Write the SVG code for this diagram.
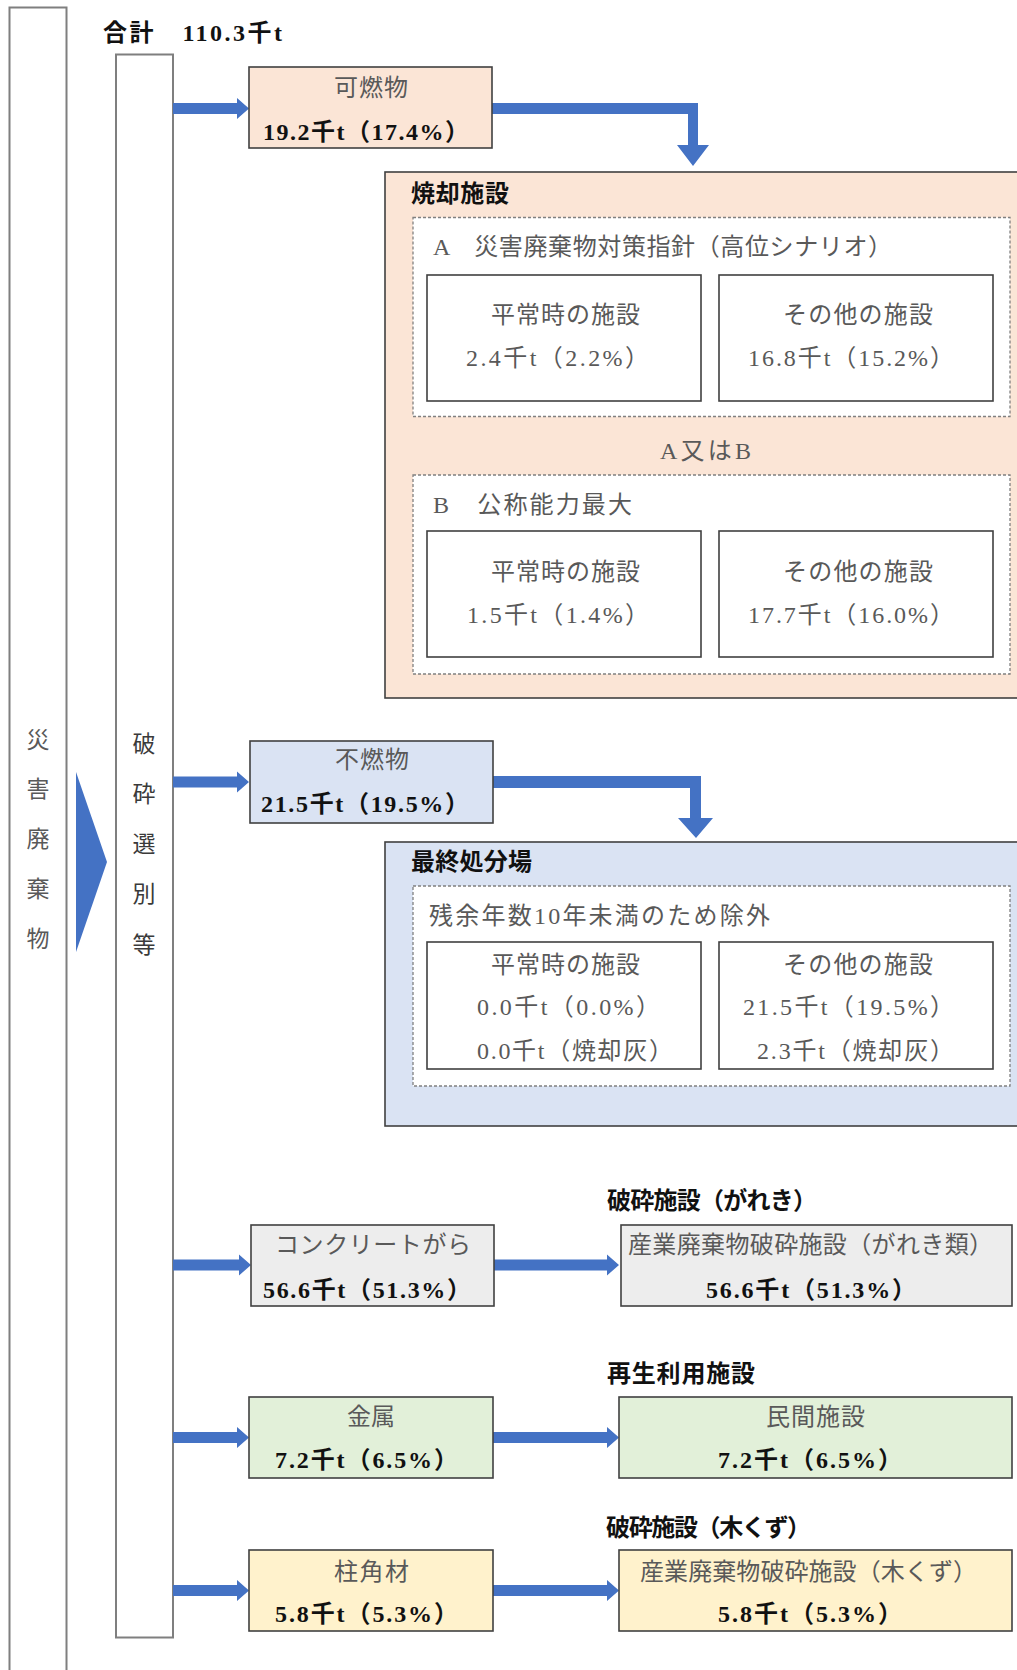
<svg xmlns="http://www.w3.org/2000/svg" width="1017" height="1670" viewBox="0 0 1017 1670">
<style>
.t{font-family:"Liberation Serif","Noto Sans CJK JP",serif;font-size:24px;fill:#595959}
.b{font-family:"Liberation Serif","Noto Sans CJK JP",serif;font-size:24px;font-weight:bold;fill:#111}
.v{font-family:"Liberation Serif","Noto Sans CJK JP",serif;font-size:23px;fill:#595959;text-anchor:middle}
.box{stroke:#404040;stroke-width:1.6}
.in{fill:#fff;stroke:#404040;stroke-width:1.6}
.dash{fill:#fff;stroke:#808080;stroke-width:1.3;stroke-dasharray:3 2}
.col{fill:#fff;stroke:#7f7f7f;stroke-width:2}
.arr{fill:#4472C4}
.or{fill:#FBE5D6}.bl{fill:#DAE3F3}.gr{fill:#EDEDED}.gn{fill:#E2F0D9}.yl{fill:#FFF2CC}
</style>
<rect width="1017" height="1670" fill="#fff"/>
<g id="total"><text class="b" x="103" y="41" textLength="179">合計　110.3千t</text></g>
<g id="saigai">
<rect class="col" x="9.5" y="7.5" width="57" height="1680"/>
<text class="v" x="38" y="748">災</text>
<text class="v" x="38" y="797">害</text>
<text class="v" x="38" y="847">廃</text>
<text class="v" x="38" y="897">棄</text>
<text class="v" x="38" y="947">物</text>
</g>
<g id="hasai">
<rect class="col" x="116" y="54.5" width="57" height="1583"/>
<text class="v" x="144" y="752" style="fill:#3a3a3a">破</text>
<text class="v" x="144" y="802" style="fill:#3a3a3a">砕</text>
<text class="v" x="144" y="852" style="fill:#3a3a3a">選</text>
<text class="v" x="144" y="902" style="fill:#3a3a3a">別</text>
<text class="v" x="144" y="953" style="fill:#3a3a3a">等</text>
</g>
<g id="connectors">
<polygon class="arr" points="76,772 107,862 76,952"/>
<path class="arr" d="M173,103 H237 V98 L249,108.5 L237,119 V114 H173 Z"/>
<path class="arr" d="M173,776.5 H237 V771.5 L249,782 L237,792.5 V787.5 H173 Z"/>
<path class="arr" d="M173,1259.5 H239 V1254.5 L251,1265 L239,1275.5 V1270.5 H173 Z"/>
<path class="arr" d="M173,1432 H237 V1427 L249,1437.5 L237,1448 V1443 H173 Z"/>
<path class="arr" d="M173,1585 H237 V1580 L249,1590.5 L237,1601 V1596 H173 Z"/>
<path class="arr" d="M494,1259.5 H607 V1254.5 L619,1265 L607,1275.5 V1270.5 H494 Z"/>
<path class="arr" d="M493,1432 H607 V1427 L619,1437.5 L607,1448 V1443 H493 Z"/>
<path class="arr" d="M493,1585 H607 V1580 L619,1590.5 L607,1601 V1596 H493 Z"/>
<path class="arr" d="M492,103 H698 V145 H709 L693,166 L677,145 H688 V114 H492 Z"/>
<path class="arr" d="M493,776 H701 V818 H713 L696,838 L678,818 H690 V788 H493 Z"/>
</g>
<g id="kanen">
<rect class="box or" x="249" y="67" width="243" height="81"/>
<text class="t" x="334" y="96" textLength="74">可燃物</text>
<text class="b" x="263" y="140" textLength="206">19.2千t（17.4%）</text>
</g>
<g id="shokyaku">
<rect class="box or" x="385" y="172" width="640" height="526"/>
<text class="b" x="411" y="202" textLength="98">焼却施設</text>
<rect class="dash" x="413" y="217.5" width="597" height="199"/>
<text class="t" x="433" y="255" textLength="459">A　災害廃棄物対策指針（高位シナリオ）</text>
<rect class="in" x="427" y="275" width="274" height="126"/>
<text class="t" x="491" y="323" textLength="149">平常時の施設</text>
<text class="t" x="466" y="366" textLength="183">2.4千t（2.2%）</text>
<rect class="in" x="719" y="275" width="274" height="126"/>
<text class="t" x="783" y="323" textLength="150">その他の施設</text>
<text class="t" x="748" y="366" textLength="206">16.8千t（15.2%）</text>
<text class="t" x="660" y="459" textLength="91">A又はB</text>
<rect class="dash" x="413" y="475" width="597" height="199"/>
<text class="t" x="433" y="513" textLength="199">B　公称能力最大</text>
<rect class="in" x="427" y="531" width="274" height="126"/>
<text class="t" x="491" y="580" textLength="149">平常時の施設</text>
<text class="t" x="467" y="623" textLength="182">1.5千t（1.4%）</text>
<rect class="in" x="719" y="531" width="274" height="126"/>
<text class="t" x="783" y="580" textLength="150">その他の施設</text>
<text class="t" x="748" y="623" textLength="206">17.7千t（16.0%）</text>
</g>
<g id="funen">
<rect class="box bl" x="250" y="741" width="243" height="82"/>
<text class="t" x="335" y="768" textLength="74">不燃物</text>
<text class="b" x="261" y="812" textLength="208">21.5千t（19.5%）</text>
</g>
<g id="saishu">
<rect class="box bl" x="385" y="842" width="640" height="284"/>
<text class="b" x="411" y="870" textLength="121">最終処分場</text>
<rect class="dash" x="413" y="886" width="597" height="200"/>
<text class="t" x="429" y="924" textLength="341">残余年数10年未満のため除外</text>
<rect class="in" x="427" y="942" width="274" height="127"/>
<text class="t" x="491" y="973" textLength="149">平常時の施設</text>
<text class="t" x="477" y="1015" textLength="183">0.0千t（0.0%）</text>
<text class="t" x="477" y="1059" textLength="196">0.0千t（焼却灰）</text>
<rect class="in" x="719" y="942" width="274" height="127"/>
<text class="t" x="783" y="973" textLength="150">その他の施設</text>
<text class="t" x="743" y="1015" textLength="211">21.5千t（19.5%）</text>
<text class="t" x="757" y="1059" textLength="197">2.3千t（焼却灰）</text>
</g>
<g id="concrete">
<rect class="box gr" x="251" y="1225" width="243" height="81"/>
<text class="t" x="275" y="1253" textLength="196">コンクリートがら</text>
<text class="b" x="263" y="1298" textLength="208">56.6千t（51.3%）</text>
</g>
<g id="hasai-gareki">
<text class="b" x="607" y="1209" textLength="210">破砕施設（がれき）</text>
<rect class="box gr" x="621" y="1225" width="391" height="81"/>
<text class="t" x="628" y="1253" textLength="365">産業廃棄物破砕施設（がれき類）</text>
<text class="b" x="706" y="1298" textLength="210">56.6千t（51.3%）</text>
</g>
<g id="kinzoku">
<rect class="box gn" x="249" y="1397" width="244" height="81"/>
<text class="t" x="347" y="1425" textLength="48">金属</text>
<text class="b" x="275" y="1468" textLength="183">7.2千t（6.5%）</text>
</g>
<g id="saisei">
<text class="b" x="607" y="1382" textLength="148">再生利用施設</text>
<rect class="box gn" x="619" y="1397" width="393" height="81"/>
<text class="t" x="766" y="1425" textLength="99">民間施設</text>
<text class="b" x="718" y="1468" textLength="184">7.2千t（6.5%）</text>
</g>
<g id="chukaku">
<rect class="box yl" x="249" y="1550" width="244" height="81"/>
<text class="t" x="334" y="1580" textLength="75">柱角材</text>
<text class="b" x="275" y="1622" textLength="183">5.8千t（5.3%）</text>
</g>
<g id="hasai-mokuzu">
<text class="b" x="606" y="1536" textLength="205">破砕施設（木くず）</text>
<rect class="box yl" x="619" y="1550" width="393" height="81"/>
<text class="t" x="640" y="1580" textLength="337">産業廃棄物破砕施設（木くず）</text>
<text class="b" x="718" y="1622" textLength="184">5.8千t（5.3%）</text>
</g>
</svg>
